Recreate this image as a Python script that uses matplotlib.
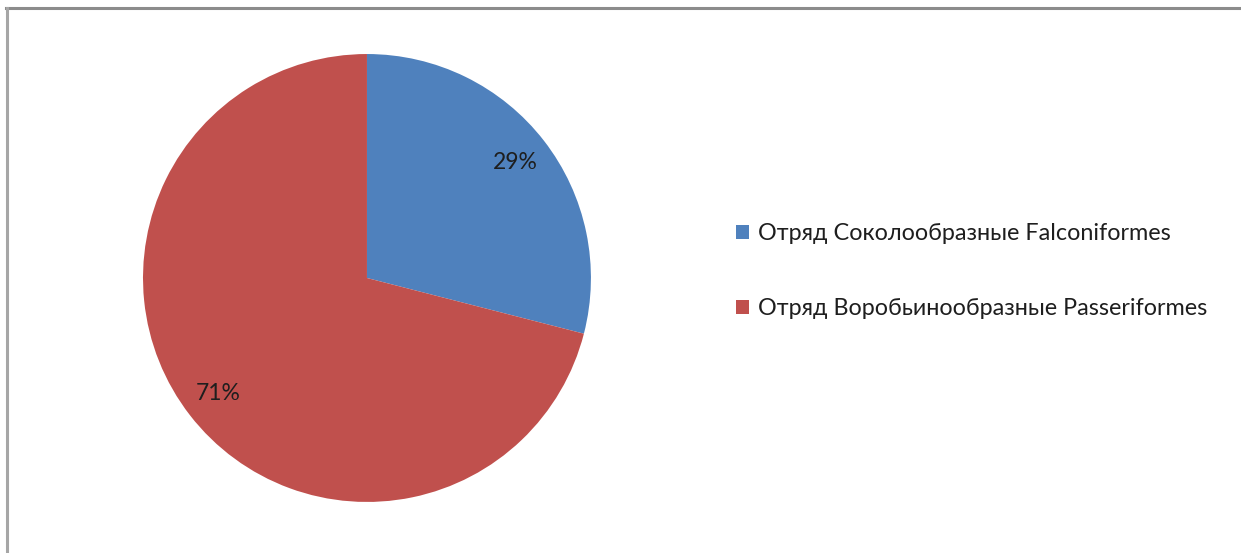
import matplotlib.pyplot as plt
from matplotlib.lines import Line2D

plt.rcParams['font.family'] = ['Lato', 'DejaVu Sans']

# Доля видов по отрядам
orders = ["Отряд Соколообразные Falconiformes",
          "Отряд Воробьинообразные Passeriformes"]
shares = [29, 71]
colors = ["#4F81BD", "#C0504D"]

fig = plt.figure(figsize=(12.41, 5.53), dpi=100)

# рамка области диаграммы
fig.add_artist(Line2D([0.005, 1.0], [0.985, 0.985], color="#8c8c8c", lw=2.2,
                      transform=fig.transFigure))
fig.add_artist(Line2D([0.0055, 0.0055], [0.0, 0.985], color="#a6a6a6", lw=2.2,
                      transform=fig.transFigure))

ax = fig.add_axes([0.2957 - 0.1805, 0.4973 - 0.405, 0.361, 0.81])
wedges, texts, autotexts = ax.pie(
    shares, colors=colors, startangle=90, counterclock=False,
    autopct="%d%%", pctdistance=0.84,
    textprops={"fontsize": 16.5, "color": "#1e1e1e"},
    wedgeprops={"linewidth": 0})
ax.set_xlim(-1, 1)
ax.set_ylim(-1, 1)
ax.set_aspect("equal")

fig.legend(wedges, orders, loc="center left", bbox_to_anchor=(0.576, 0.51),
           frameon=False, fontsize=16.8, handlelength=0.55, handleheight=0.55,
           handletextpad=0.4, labelspacing=2.3, labelcolor="#1e1e1e")

plt.savefig("out.png", dpi=100)
plt.close()
